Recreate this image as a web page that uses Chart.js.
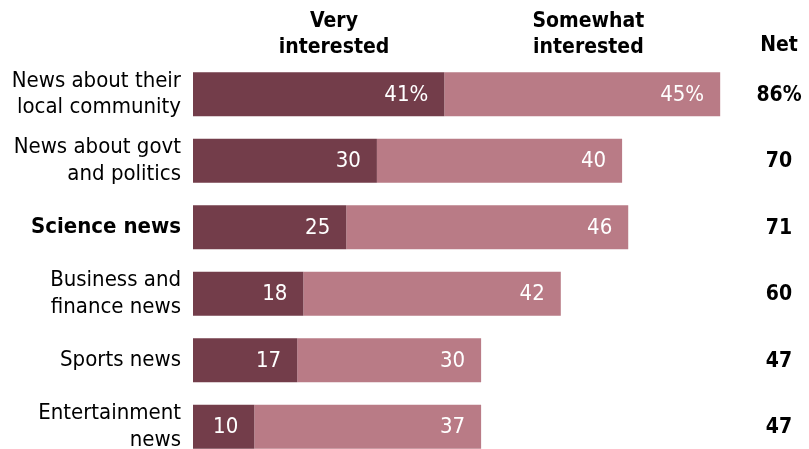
<!DOCTYPE html>
<html>
<head>
<meta charset="utf-8">
<script src="https://cdn.jsdelivr.net/npm/chart.js@4/dist/chart.umd.min.js"></script>
<style>
  html, body { margin: 0; padding: 0; background: #fff; width: 809px; height: 449px; overflow: hidden; }
  canvas { display: block; }
</style>
</head>
<body>
<canvas id="c" width="809" height="470"></canvas>
<script>
const FONT = '"Liberation Sans Narrow", "DejaVu Sans Condensed", sans-serif';

const categories = [
    ['News about their', 'local community'],
    ['News about govt', 'and politics'],
    'Science news',
    ['Business and', 'finance news'],
    'Sports news',
    ['Entertainment', 'news']
];
const veryInterested = [41, 30, 25, 18, 17, 10];
const somewhatInterested = [45, 40, 46, 42, 30, 37];
const netValues = [86, 70, 71, 60, 47, 47];
const seriesNames = [['Very', 'interested'], ['Somewhat', 'interested']];

const DARK = '#733d4a';
const LIGHT = '#b97b86';

// labels inside bars, column headers and the net column
const extrasPlugin = {
    id: 'extras',
    afterDatasetsDraw(chart) {
        const {ctx, scales: {x, y}} = chart;
        ctx.save();
        ctx.font = '22px ' + FONT;
        ctx.fillStyle = '#fff';
        ctx.textAlign = 'right';
        ctx.textBaseline = 'middle';
        chart.data.datasets.forEach((ds, di) => {
            const meta = chart.getDatasetMeta(di);
            meta.data.forEach((bar, i) => {
                const suffix = i === 0 ? '%' : '';
                ctx.fillText(ds.data[i] + suffix, bar.x - 16, bar.y + 1);
            });
        });

        // headers
        ctx.fillStyle = '#000';
        ctx.textAlign = 'center';
        ctx.font = 'bold 21px ' + FONT;
        const headerX = [x.getPixelForValue(23), x.getPixelForValue(64.5)];
        seriesNames.forEach((lines, i) => {
            lines.forEach((line, li) => {
                ctx.fillText(line, headerX[i], 22 + li * 26);
            });
        });
        const netX = 779;
        ctx.fillText('Net', netX, 46);

        netValues.forEach((v, i) => {
            const suffix = i === 0 ? '%' : '';
            ctx.fillText(v + suffix, netX, y.getPixelForValue(i) + 1);
        });
        ctx.restore();
    }
};

new Chart(document.getElementById('c'), {
    type: 'bar',
    data: {
        labels: categories,
        datasets: [
            {label: 'Very interested', data: veryInterested, backgroundColor: DARK},
            {label: 'Somewhat interested', data: somewhatInterested, backgroundColor: LIGHT}
        ]
    },
    options: {
        indexAxis: 'y',
        responsive: false,
        animation: false,
        events: [],
        layout: {padding: {top: 61, right: 3, bottom: 10, left: 0}},
        datasets: {bar: {categoryPercentage: 1, barPercentage: 0.66}},
        plugins: {legend: {display: false}, tooltip: {enabled: false}},
        scales: {
            x: {
                stacked: true, min: 0, max: 100, display: false
            },
            y: {
                stacked: true,
                grid: {display: false, drawTicks: false},
                border: {display: false},
                afterFit(scale) {
                    scale.width = 193;
                    scale.paddingTop = 0;
                    scale.paddingBottom = 0;
                },
                ticks: {
                    padding: 12,
                    color: '#000',
                    font: (c) => ({family: FONT, size: 22, lineHeight: 1.2, weight: c.index === 2 ? 'bold' : 'normal'})
                }
            }
        }
    },
    plugins: [extrasPlugin]
});
</script>
</body>
</html>
